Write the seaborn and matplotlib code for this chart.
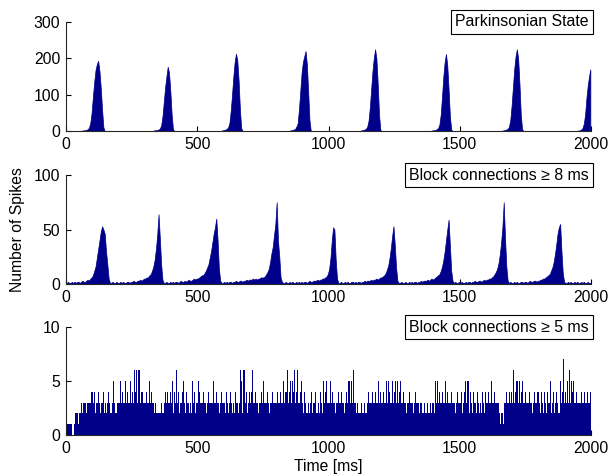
import numpy as np
import pandas as pd
import matplotlib
matplotlib.use("Agg")
import matplotlib.pyplot as plt
import seaborn as sns

# ---------------- data (spike counts per time bin) ----------------
panel_titles = ["Parkinsonian State", "Block connections \u2265 8 ms", "Block connections \u2265 5 ms"]
x_ticks = [0, 500, 1000, 1500, 2000]
y_ticks_p1 = [0, 100, 200, 300]
y_ticks_p2 = [0, 50, 100]
y_ticks_p3 = [0, 5, 10]

bin_ms_p1 = 5
counts_p1 = [
    0, 0, 0, 0, 0, 0, 0, 0, 0, 0, 0, 1, 1, 2, 2, 3, 5, 9, 22, 50,
    95, 135, 168, 184, 193, 165, 118, 58, 10, 0, 0, 0, 0, 0, 0, 0, 0, 0, 0, 0,
    0, 0, 0, 0, 0, 0, 0, 0, 0, 0, 0, 0, 0, 0, 0, 0, 0, 0, 0, 0,
    0, 0, 0, 0, 0, 0, 1, 2, 2, 3, 4, 7, 15, 40, 80, 120, 150, 177, 160, 110,
    45, 5, 0, 0, 0, 0, 0, 0, 0, 0, 0, 0, 0, 0, 0, 0, 0, 0, 0, 0,
    0, 0, 0, 0, 0, 0, 0, 0, 0, 0, 0, 0, 0, 0, 0, 0, 0, 0, 1, 2,
    3, 4, 6, 10, 22, 55, 100, 150, 190, 213, 195, 140, 60, 8, 0, 0, 0, 0, 0, 0,
    0, 0, 0, 0, 0, 0, 0, 0, 0, 0, 0, 0, 0, 0, 0, 0, 0, 0, 0, 0,
    0, 0, 0, 0, 0, 0, 0, 0, 0, 0, 1, 2, 3, 4, 5, 12, 21, 60, 110, 160,
    190, 205, 220, 185, 110, 30, 0, 0, 0, 0, 0, 0, 0, 0, 0, 0, 0, 0, 0, 0,
    0, 0, 0, 0, 0, 0, 0, 0, 0, 0, 0, 0, 0, 0, 0, 0, 0, 0, 0, 0,
    0, 0, 0, 0, 1, 2, 3, 4, 6, 12, 28, 65, 115, 165, 200, 225, 200, 130, 45, 3,
    0, 0, 0, 0, 0, 0, 0, 0, 0, 0, 0, 0, 0, 0, 0, 0, 0, 0, 0, 0,
    0, 0, 0, 0, 0, 0, 0, 0, 0, 0, 0, 0, 0, 0, 0, 0, 0, 0, 1, 2,
    2, 3, 5, 8, 18, 45, 95, 150, 190, 212, 180, 115, 40, 4, 0, 0, 0, 0, 0, 0,
    0, 0, 0, 0, 0, 0, 0, 0, 0, 0, 0, 0, 0, 0, 0, 0, 0, 0, 0, 0,
    0, 0, 0, 0, 0, 0, 0, 0, 0, 0, 0, 0, 1, 2, 3, 4, 6, 12, 30, 70,
    120, 170, 205, 225, 200, 130, 45, 5, 0, 0, 0, 0, 0, 0, 0, 0, 0, 0, 0, 0,
    0, 0, 0, 0, 0, 0, 0, 0, 0, 0, 0, 0, 0, 0, 0, 0, 0, 0, 0, 0,
    0, 0, 0, 0, 0, 0, 0, 0, 0, 1, 1, 2, 4, 8, 20, 45, 90, 125, 150, 170,
]

bin_ms_p2 = 5
counts_p2 = [
    1, 2, 1, 1, 2, 1, 2, 1, 2, 2, 1, 2, 3, 2, 2, 3, 4, 3, 5, 6,
    8, 12, 16, 24, 32, 40, 48, 53, 50, 46, 30, 18, 5, 1, 1, 2, 1, 1, 2, 1,
    1, 2, 1, 2, 1, 1, 2, 2, 1, 2, 2, 3, 2, 2, 3, 3, 4, 3, 4, 5,
    5, 6, 6, 8, 9, 12, 16, 22, 32, 45, 64, 42, 18, 4, 1, 1, 2, 1, 1, 2,
    1, 2, 1, 2, 2, 1, 2, 3, 2, 2, 3, 2, 3, 4, 3, 3, 4, 5, 4, 5,
    5, 6, 7, 8, 8, 10, 12, 15, 18, 24, 30, 38, 46, 52, 60, 40, 14, 3, 1, 1,
    2, 1, 2, 1, 2, 2, 1, 2, 2, 3, 2, 2, 3, 3, 2, 3, 3, 4, 3, 4,
    4, 4, 5, 4, 5, 4, 5, 5, 6, 6, 6, 7, 9, 11, 14, 20, 28, 34, 45, 55,
    75, 40, 25, 6, 2, 1, 1, 2, 1, 1, 2, 1, 2, 1, 1, 2, 1, 2, 1, 2,
    1, 2, 2, 1, 2, 3, 2, 2, 3, 3, 3, 4, 3, 4, 4, 5, 5, 6, 7, 9,
    14, 24, 40, 52, 50, 22, 5, 1, 1, 2, 1, 1, 2, 1, 2, 1, 1, 2, 2, 1,
    2, 1, 2, 2, 1, 2, 2, 3, 2, 3, 3, 3, 4, 3, 4, 4, 5, 4, 5, 6,
    6, 7, 8, 10, 13, 17, 24, 33, 44, 53, 36, 15, 3, 1, 1, 2, 1, 1, 2, 1,
    1, 2, 1, 2, 1, 2, 2, 1, 2, 2, 3, 2, 3, 3, 3, 4, 3, 4, 5, 4,
    5, 6, 7, 8, 9, 12, 16, 22, 30, 40, 50, 59, 35, 12, 3, 1, 2, 1, 1, 2,
    1, 2, 1, 1, 2, 1, 2, 2, 1, 2, 2, 3, 2, 2, 3, 3, 2, 3, 4, 3,
    4, 4, 5, 5, 6, 7, 9, 11, 14, 19, 27, 38, 52, 75, 42, 16, 3, 1, 2, 1,
    1, 2, 1, 2, 1, 1, 2, 2, 1, 2, 2, 1, 2, 3, 2, 2, 3, 3, 2, 3,
    3, 4, 4, 5, 5, 6, 7, 8, 9, 12, 15, 20, 27, 36, 46, 52, 55, 30, 10, 2,
    1, 1, 2, 1, 2, 1, 1, 2, 1, 2, 1, 1, 2, 1, 2, 1, 1, 2, 1, 1,
]

bin_ms_p3 = 4
counts_p3 = [
    1, 1, 1, 1, 1, 1, 0, 0, 1, 2, 2, 1, 2, 2, 3, 2, 3, 3, 3, 2, 3, 3, 3, 3, 4,
    4, 3, 4, 2, 3, 4, 3, 2, 3, 3, 4, 2, 3, 2, 3, 4, 3, 2, 2, 3, 5, 3, 2, 2, 3,
    3, 5, 3, 4, 3, 3, 5, 3, 4, 3, 3, 5, 3, 4, 3, 6, 4, 6, 3, 6, 3, 4, 4, 3, 3,
    3, 4, 3, 3, 5, 3, 4, 3, 3, 2, 3, 2, 2, 2, 2, 3, 2, 2, 3, 4, 3, 4, 3, 3, 4,
    3, 5, 2, 4, 3, 6, 3, 4, 2, 3, 4, 5, 3, 2, 4, 3, 3, 2, 3, 2, 5, 3, 4, 2, 3,
    3, 5, 4, 3, 3, 4, 3, 3, 2, 3, 4, 3, 3, 3, 3, 5, 3, 3, 4, 3, 3, 2, 3, 4, 3,
    3, 2, 4, 3, 2, 3, 4, 3, 2, 3, 2, 4, 3, 3, 2, 3, 6, 5, 2, 6, 3, 4, 2, 3, 4,
    3, 4, 6, 3, 3, 4, 3, 3, 2, 3, 3, 4, 3, 5, 3, 3, 4, 3, 2, 3, 3, 4, 3, 3, 3,
    3, 4, 3, 3, 4, 3, 3, 5, 3, 4, 6, 3, 4, 5, 3, 5, 4, 6, 3, 4, 6, 3, 3, 4, 5,
    3, 2, 4, 3, 2, 3, 2, 3, 4, 2, 3, 3, 4, 2, 2, 3, 2, 4, 3, 2, 5, 3, 4, 5, 3,
    3, 5, 3, 4, 3, 3, 2, 3, 3, 4, 3, 3, 4, 3, 3, 2, 3, 4, 3, 5, 3, 5, 3, 6, 3,
    3, 2, 3, 2, 2, 2, 3, 2, 2, 3, 2, 2, 3, 4, 3, 3, 4, 3, 3, 4, 3, 3, 5, 3, 4,
    3, 3, 4, 3, 3, 5, 3, 5, 4, 3, 5, 3, 4, 5, 3, 5, 3, 4, 5, 3, 3, 4, 3, 3, 2,
    3, 3, 4, 3, 3, 2, 3, 4, 3, 3, 3, 2, 3, 3, 2, 2, 3, 2, 2, 3, 2, 2, 3, 2, 3,
    2, 5, 3, 5, 3, 4, 3, 3, 4, 3, 3, 5, 3, 4, 3, 3, 3, 4, 3, 3, 2, 3, 4, 3, 3,
    3, 4, 2, 3, 4, 5, 3, 5, 5, 2, 4, 3, 2, 4, 3, 2, 4, 3, 2, 3, 2, 4, 3, 2, 4,
    3, 3, 4, 3, 3, 5, 3, 3, 4, 3, 3, 3, 2, 1, 2, 2, 1, 3, 3, 4, 3, 3, 4, 3, 4,
    3, 6, 3, 4, 5, 3, 5, 3, 4, 5, 3, 3, 4, 3, 3, 3, 4, 3, 3, 2, 3, 4, 3, 3, 4,
    3, 2, 4, 3, 2, 4, 3, 2, 4, 3, 3, 5, 2, 3, 4, 2, 3, 4, 3, 2, 5, 3, 4, 7, 3,
    4, 3, 5, 3, 6, 3, 5, 4, 5, 3, 3, 4, 3, 3, 3, 4, 3, 3, 4, 3, 3, 4, 3, 3, 4,
]

# ---------------- styling ----------------
FS = 11.3
sns.set_style("ticks")
plt.rcParams["font.family"] = ["Liberation Sans", "DejaVu Sans"]
plt.rcParams["font.size"] = FS
plt.rcParams["xtick.direction"] = "in"
plt.rcParams["ytick.direction"] = "in"
plt.rcParams["xtick.major.size"] = 3.5
plt.rcParams["ytick.major.size"] = 3.5
plt.rcParams["xtick.major.pad"] = 4.0
plt.rcParams["ytick.major.pad"] = 4.0
plt.rcParams["axes.linewidth"] = 0.8
plt.rcParams["xtick.color"] = "black"
plt.rcParams["ytick.color"] = "black"
plt.rcParams["text.color"] = "black"

BAR_COLOR = "#00008B"
W, H = 610, 476
fig = plt.figure(figsize=(W / 100, H / 100), dpi=100)

def ax_rect(top_px, bottom_px, left_px=66, right_px=591):
    return [left_px / W, 1 - bottom_px / H, (right_px - left_px) / W, (bottom_px - top_px) / H]

axes = [
    fig.add_axes(ax_rect(22, 131)),
    fig.add_axes(ax_rect(175, 284)),
    fig.add_axes(ax_rect(327, 435)),
]

panels = [
    (counts_p1, bin_ms_p1, y_ticks_p1, "poly"),
    (counts_p2, bin_ms_p2, y_ticks_p2, "poly"),
    (counts_p3, bin_ms_p3, y_ticks_p3, "bars"),
]

for ax, (counts, bw, yt, elem), title in zip(axes, panels, panel_titles):
    counts = np.asarray(counts, dtype=float)
    centers = np.arange(len(counts)) * bw + bw / 2
    df = pd.DataFrame({"time": centers, "count": counts})
    kw = dict(data=df, x="time", weights="count", binwidth=bw,
              binrange=(0, len(counts) * bw), stat="count",
              element=elem, fill=True, color=BAR_COLOR, alpha=1.0, ax=ax)
    if elem == "poly":
        kw.update(linewidth=0.5, edgecolor=BAR_COLOR)
    else:
        kw.update(linewidth=0, shrink=1.0)
    sns.histplot(**kw)
    ax.set_xlim(0, 2000)
    ax.set_ylim(yt[0], yt[-1])
    ax.set_xticks(x_ticks)
    ax.set_yticks(yt)
    ax.set_xlabel("")
    ax.set_ylabel("")
    ax.spines["top"].set_visible(False)
    ax.spines["right"].set_visible(False)
    ax.tick_params(labelsize=FS, width=0.8)
    ax.text(0.996, 1.0, title, transform=ax.transAxes, ha="right", va="center",
            fontsize=11.4, zorder=10,
            bbox=dict(boxstyle="square,pad=0.28", fc="white", ec="black", lw=0.8))

fig.text(18 / W, 1 - 229.5 / H, "Number of Spikes", rotation=90,
         ha="center", va="center", fontsize=FS)
fig.text(328.5 / W, 1 - 466 / H, "Time [ms]", ha="center", va="center", fontsize=FS)

fig.savefig("out.png", dpi=100)
